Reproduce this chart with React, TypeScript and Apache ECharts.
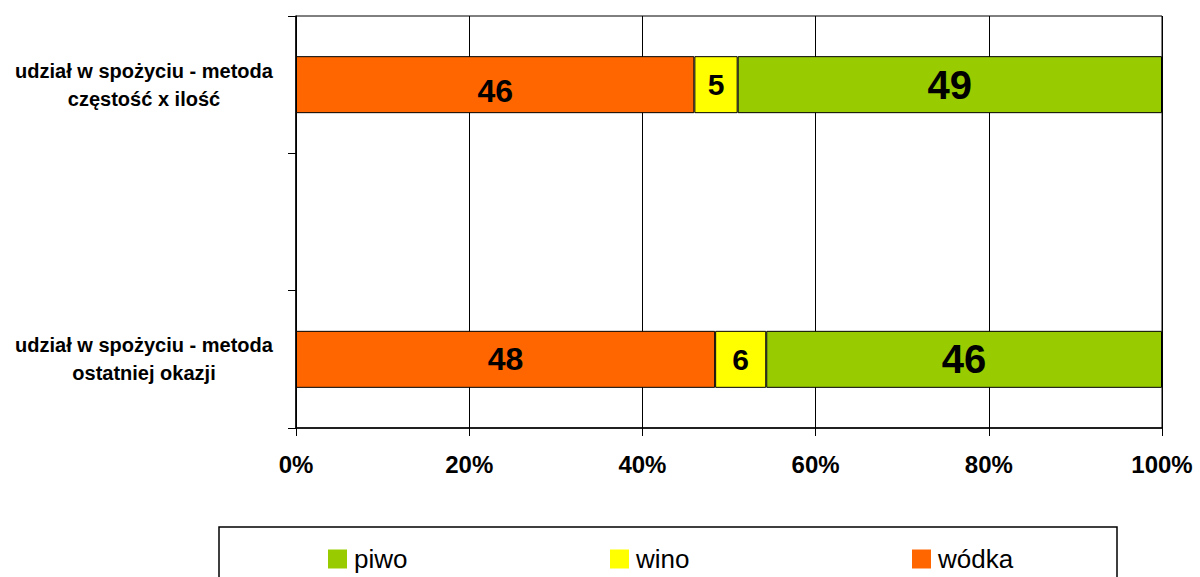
import React, { useEffect, useRef } from "react";
import * as echarts from "echarts";

const categories = [
  "udział w spożyciu - metoda\nczęstość x ilość",
  "",
  "udział w spożyciu - metoda\nostatniej okazji",
];
const seriesNames = ["wódka", "wino", "piwo"];
const wodka = [46.0, null, 48.4];
const wino = [5.0, null, 5.9];
const piwo = [49.0, null, 45.7];
const xTicks = [0, 20, 40, 60, 80, 100];
const legendOrder = ["piwo", "wino", "wódka"];

const colors: Record<string, string> = {
  "wódka": "#FF6600",
  wino: "#FFFF00",
  piwo: "#99CC00",
};
const labelSizes: Record<string, number> = { "wódka": 32, wino: 30, piwo: 40 };

const FONT = "'Liberation Sans', Arial, sans-serif";

export default function App() {
  const ref = useRef<HTMLDivElement>(null);
  useEffect(() => {
    if (!ref.current) return;
    const chart = echarts.init(ref.current, undefined, { renderer: "svg" });
    const values: Record<string, (number | null)[]> = { "wódka": wodka, wino, piwo };
    const series = seriesNames.map((name) => ({
      name,
      type: "bar",
      stack: "total",
      barWidth: 57,
      itemStyle: { color: colors[name], borderColor: "#000", borderWidth: 1 },
      label: {
        show: true,
        position: "inside",
        color: "#000",
        fontFamily: FONT,
        fontWeight: "bold",
        fontSize: labelSizes[name],
        formatter: (p: any) => (p.value == null ? "" : String(Math.round(p.value))),
      },
      data: values[name].map((v, i) =>
        name === "wódka" && i === 0 ? { value: v, label: { offset: [0, 6] } } : v
      ),
    }));
    const legendLefts = [323, 605, 907];
    chart.setOption({
      animation: false,
      textStyle: { fontFamily: FONT },
      grid: {
        left: 296,
        right: 38,
        top: 16,
        bottom: 149,
        show: true,
        borderColor: "#000",
        borderWidth: 1,
        backgroundColor: "transparent",
      },
      xAxis: {
        type: "value",
        min: xTicks[0],
        max: xTicks[xTicks.length - 1],
        interval: 20,
        axisLine: { show: true, lineStyle: { color: "#000", width: 1.5 } },
        axisTick: { show: true, length: 8, lineStyle: { color: "#000" } },
        splitLine: { show: true, lineStyle: { color: "#000", width: 1 } },
        axisLabel: {
          formatter: "{value}%",
          color: "#000",
          fontFamily: FONT,
          fontWeight: "bold",
          fontSize: 24,
          margin: 24,
        },
      },
      yAxis: {
        type: "category",
        inverse: true,
        data: categories,
        axisLine: { show: true, lineStyle: { color: "#000", width: 1.5 } },
        axisTick: { show: true, length: 8, lineStyle: { color: "#000" } },
        splitLine: { show: false },
        axisLabel: {
          color: "#000",
          fontFamily: FONT,
          fontWeight: "bold",
          fontSize: 20,
          lineHeight: 28,
          align: "center",
          margin: 152,
        },
      },
      legend: legendOrder.map((n, i) => ({
        data: [n],
        left: legendLefts[i],
        top: 541,
        icon: "rect",
        itemWidth: 19,
        itemHeight: 19,
        selectedMode: false,
        itemStyle: { borderWidth: 0 },
        textStyle: { fontFamily: FONT, fontSize: 26, color: "#000", padding: [0, 0, 0, 2] },
      })),
      graphic: [
        {
          type: "rect",
          shape: { x: 219, y: 527, width: 898, height: 80 },
          style: { fill: "none", stroke: "#000", lineWidth: 1.5 },
        },
      ],
      series,
    });
    return () => chart.dispose();
  }, []);
  return (
    <div
      ref={ref}
      style={{ position: "fixed", left: 0, top: 0, width: 1200, height: 577, background: "#fff" }}
    />
  );
}
